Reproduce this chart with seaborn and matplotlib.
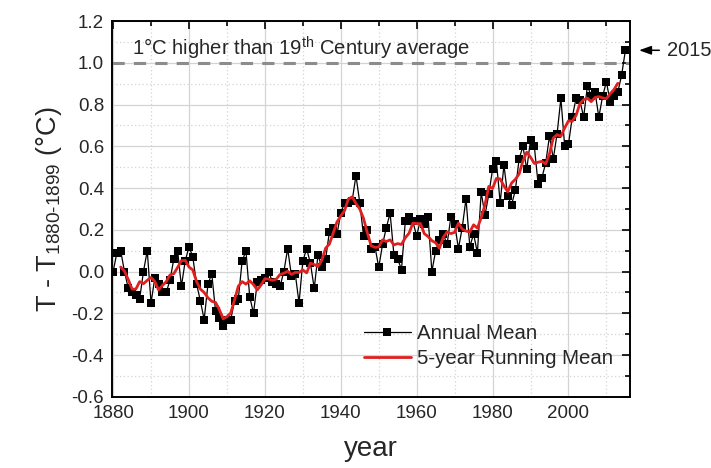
import numpy as np
import pandas as pd
import matplotlib
matplotlib.use("Agg")
import matplotlib.pyplot as plt
import seaborn as sns
from matplotlib.ticker import MultipleLocator, FormatStrFormatter

# ---------------- data ----------------
start_year = 1880
end_year = 2015
annual_mean = [
    0.00, 0.09, 0.10, 0.00, -0.08, -0.10, -0.11, -0.13, 0.00, 0.10,      # 1880s
    -0.15, -0.03, -0.06, -0.10, -0.10, -0.04, 0.06, 0.10, -0.07, 0.05,   # 1890s
    0.12, 0.07, -0.06, -0.14, -0.23, -0.06, -0.01, -0.19, -0.22, -0.26, # 1900s
    -0.23, -0.23, -0.14, -0.13, 0.05, 0.10, -0.12, -0.20, -0.05, -0.04, # 1910s
    -0.03, 0.00, -0.05, -0.06, -0.07, 0.00, 0.11, -0.02, -0.01, -0.15,  # 1920s
    0.05, 0.11, 0.04, -0.08, 0.08, 0.02, 0.06, 0.19, 0.21, 0.18,        # 1930s
    0.28, 0.33, 0.33, 0.34, 0.46, 0.33, 0.17, 0.20, 0.11, 0.12,         # 1940s
    0.02, 0.13, 0.21, 0.28, 0.08, 0.06, 0.01, 0.24, 0.26, 0.24,         # 1950s
    0.17, 0.25, 0.23, 0.26, 0.00, 0.10, 0.15, 0.18, 0.13, 0.26,         # 1960s
    0.23, 0.11, 0.21, 0.35, 0.12, 0.18, 0.09, 0.38, 0.27, 0.37,         # 1970s
    0.49, 0.53, 0.33, 0.51, 0.36, 0.32, 0.39, 0.54, 0.60, 0.49,         # 1980s
    0.63, 0.60, 0.42, 0.45, 0.52, 0.65, 0.54, 0.66, 0.83, 0.60,         # 1990s
    0.61, 0.74, 0.83, 0.82, 0.74, 0.89, 0.84, 0.86, 0.74, 0.84,         # 2000s
    0.91, 0.81, 0.84, 0.86, 0.94, 1.06,                                 # 2010s
]
years = list(range(start_year, end_year + 1))
window = 5
reference_level = 1.0
x_ticks = [1880, 1900, 1920, 1940, 1960, 1980, 2000]
y_ticks = [-0.6, -0.4, -0.2, 0.0, 0.2, 0.4, 0.6, 0.8, 1.0, 1.2]

# ---------------- style ----------------
sns.set_theme(style="white")
plt.rcParams["font.family"] = ["Liberation Sans", "DejaVu Sans"]
plt.rcParams["mathtext.fontset"] = "custom"
plt.rcParams["mathtext.rm"] = "Liberation Sans"
plt.rcParams["mathtext.it"] = "Liberation Sans:italic"
plt.rcParams["mathtext.bf"] = "Liberation Sans:bold"

df = pd.DataFrame({"year": years, "annual": annual_mean})
df["running"] = df["annual"].rolling(window, center=True).mean()

fig = plt.figure(figsize=(7.11, 4.68), dpi=100)
ax = fig.add_axes([0.158, 0.152, 0.728, 0.803])

ax.axhline(reference_level, color="#8c8c8c", lw=2.2, ls=(0, (4, 3)), zorder=1.5)

sns.lineplot(data=df, x="year", y="annual", ax=ax, color="black", lw=0.9,
             marker="s", markersize=5.8, markeredgewidth=0,
             label="Annual Mean", zorder=2)
sns.lineplot(data=df, x="year", y="running", ax=ax, color="#e01f1f", lw=2.0,
             label="5-year Running Mean", zorder=3)

ax.set_xlim(1879.8, 2016.2)
ax.set_ylim(-0.6, 1.2)
ax.set_xticks(x_ticks)
ax.set_yticks(y_ticks)
ax.xaxis.set_minor_locator(MultipleLocator(10))
ax.yaxis.set_minor_locator(MultipleLocator(0.1))
ax.yaxis.set_major_formatter(FormatStrFormatter("%.1f"))

ax.grid(which="major", color="#d4d4d4", lw=0.9, ls="-")
ax.grid(which="minor", color="#d4d4d4", lw=0.9, ls=(0, (1, 2)))
ax.set_axisbelow(True)

for s in ax.spines.values():
    s.set_visible(True)
    s.set_color("black")
    s.set_linewidth(1.4)

ax.tick_params(which="both", direction="in", top=True, right=True,
               color="black", width=1.2)
ax.tick_params(which="major", length=6, labelsize=13.5, pad=6)
ax.tick_params(which="minor", length=3.5)

ax.set_xlabel("year", fontsize=20, labelpad=10)
ax.set_ylabel(r"T - T$_{\mathrm{1880}\text{-}\mathrm{1899}}$ (°C)", fontsize=19.5, labelpad=5)

ax.text(1885.0, 1.068, r"1°C higher than 19$^{\mathrm{th}}$ Century average",
        fontsize=14.6, ha="left", va="center")
ax.annotate("2015", xy=(2018.6, 1.06), xytext=(2025.9, 1.06),
            fontsize=14.5, ha="left", va="center", annotation_clip=False,
            arrowprops=dict(arrowstyle="-|>,head_length=0.5,head_width=0.18",
                            color="black", lw=1.1, shrinkA=3, shrinkB=0))

leg = ax.legend(loc="lower left", bbox_to_anchor=(0.47, 0.055), frameon=False,
                fontsize=14.7, handlelength=2.3, handletextpad=0.3,
                labelspacing=0.3, borderaxespad=0.0)

fig.savefig("out.png", dpi=100)
